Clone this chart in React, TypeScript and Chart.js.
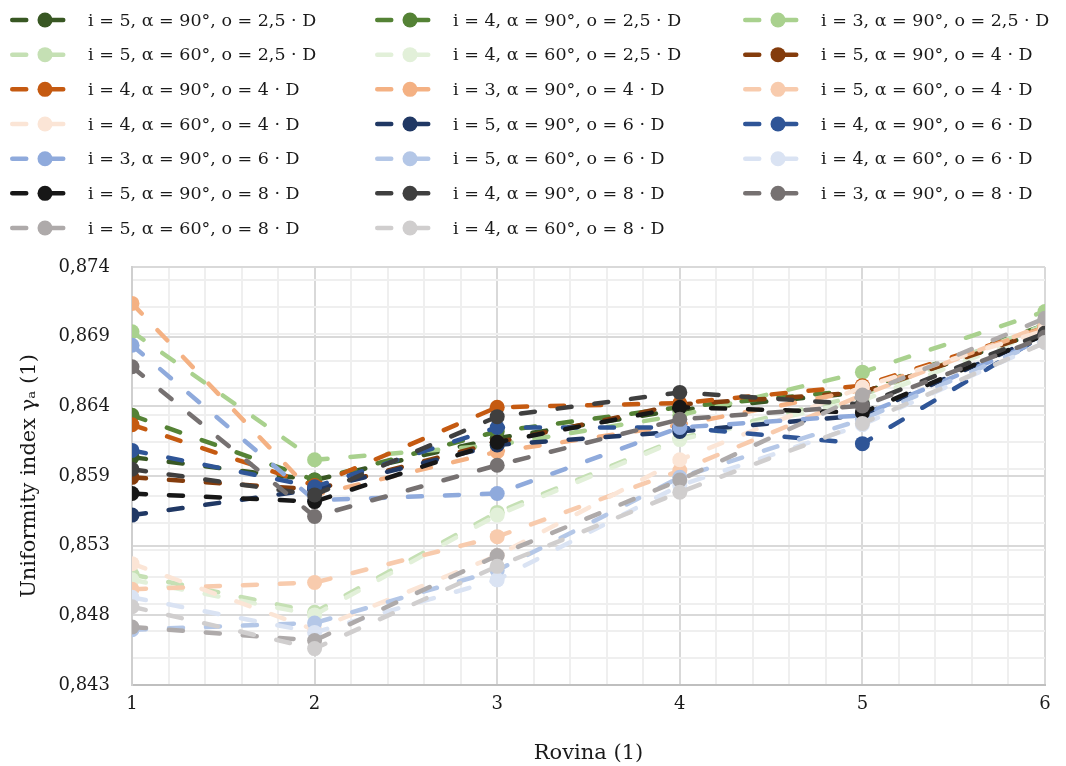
import React, { useEffect, useRef } from 'react';
import { Chart, registerables } from 'chart.js';

Chart.register(...registerables);

// ---- data ----
const xValues = [1, 2, 3, 4, 5, 6];

const seriesLabels = [
  'i = 5, α = 90°, o = 2,5 · D',
  'i = 4, α = 90°, o = 2,5 · D',
  'i = 3, α = 90°, o = 2,5 · D',
  'i = 5, α = 60°, o = 2,5 · D',
  'i = 4, α = 60°, o = 2,5 · D',
  'i = 5, α = 90°, o = 4 · D',
  'i = 4, α = 90°, o = 4 · D',
  'i = 3, α = 90°, o = 4 · D',
  'i = 5, α = 60°, o = 4 · D',
  'i = 4, α = 60°, o = 4 · D',
  'i = 5, α = 90°, o = 6 · D',
  'i = 4, α = 90°, o = 6 · D',
  'i = 3, α = 90°, o = 6 · D',
  'i = 5, α = 60°, o = 6 · D',
  'i = 4, α = 60°, o = 6 · D',
  'i = 5, α = 90°, o = 8 · D',
  'i = 4, α = 90°, o = 8 · D',
  'i = 3, α = 90°, o = 8 · D',
  'i = 5, α = 60°, o = 8 · D',
  'i = 4, α = 60°, o = 8 · D',
];

const seriesColors = [
  '#385723', '#548235', '#a9d18e', '#c5e0b4', '#e2f0d9',
  '#843c0c', '#c55a11', '#f4b183', '#f8cbad', '#fbe5d6',
  '#203864', '#2f5597', '#8faadc', '#b4c7e7', '#dae3f3',
  '#171717', '#3f3f3f', '#767171', '#aeaaaa', '#d0cece',
];

const i5_a90_o2_5 = [0.8599, 0.8582, 0.8613, 0.8634, 0.8647, 0.8693];
const i4_a90_o2_5 = [0.8630, 0.8582, 0.8618, 0.8636, 0.8649, 0.8697];
const i3_a90_o2_5 = [0.8692, 0.8597, 0.8608, 0.8630, 0.8662, 0.8707];
const i5_a60_o2_5 = [0.8512, 0.8484, 0.8558, 0.8613, 0.8645, 0.8697];
const i4_a60_o2_5 = [0.8508, 0.8482, 0.8556, 0.8612, 0.8641, 0.8693];
const i5_a90_o4 = [0.8584, 0.8575, 0.8610, 0.8638, 0.8647, 0.8693];
const i4_a90_o4 = [0.8623, 0.8578, 0.8636, 0.8639, 0.8652, 0.8695];
const i3_a90_o4 = [0.8713, 0.8571, 0.8603, 0.8623, 0.8649, 0.8695];
const i5_a60_o4 = [0.8501, 0.8506, 0.8540, 0.8589, 0.8645, 0.8697];
const i4_a60_o4 = [0.8520, 0.8471, 0.8526, 0.8597, 0.8651, 0.8693];
const i5_a90_o6 = [0.8556, 0.8575, 0.8608, 0.8618, 0.8630, 0.8690];
const i4_a90_o6 = [0.8604, 0.8577, 0.8621, 0.8621, 0.8609, 0.8690];
const i3_a90_o6 = [0.8682, 0.8567, 0.8572, 0.8621, 0.8630, 0.8687];
const i5_a60_o6 = [0.8471, 0.8476, 0.8515, 0.8584, 0.8627, 0.8686];
const i4_a60_o6 = [0.8495, 0.8469, 0.8508, 0.8578, 0.8623, 0.8684];
const i5_a90_o8 = [0.8572, 0.8566, 0.8610, 0.8636, 0.8632, 0.8690];
const i4_a90_o8 = [0.8590, 0.8571, 0.8629, 0.8647, 0.8638, 0.8691];
const i3_a90_o8 = [0.8666, 0.8555, 0.8593, 0.8627, 0.8637, 0.8688];
const i5_a60_o8 = [0.8473, 0.8463, 0.8526, 0.8582, 0.8645, 0.8702];
const i4_a60_o8 = [0.8488, 0.8457, 0.8518, 0.8573, 0.8624, 0.8684];

const seriesValues = [
  i5_a90_o2_5, i4_a90_o2_5, i3_a90_o2_5, i5_a60_o2_5, i4_a60_o2_5,
  i5_a90_o4, i4_a90_o4, i3_a90_o4, i5_a60_o4, i4_a60_o4,
  i5_a90_o6, i4_a90_o6, i3_a90_o6, i5_a60_o6, i4_a60_o6,
  i5_a90_o8, i4_a90_o8, i3_a90_o8, i5_a60_o8, i4_a60_o8,
];

// axis settings
const yMin = 0.843;
const yMax = 0.874;
const yMajorIntervals = 6;
const yMinorStep = 0.002;
const xMin = 1;
const xMax = 6;
const xMinorStep = 0.2;

const xTitle = 'Rovina (1)';
const yTitle = 'Uniformity index γₐ (1)';

const FONT = "'DejaVu Serif', serif";
const TEXT = '#1a1a1a';

const yMajors: number[] = [];
for (let k = 0; k <= yMajorIntervals; k++) yMajors.push(yMin + (k * (yMax - yMin)) / yMajorIntervals);
const isYMajor = (v: number) => yMajors.some((m) => Math.abs(m - v) < 1e-7);
const isXMajor = (v: number) => Math.abs(v - Math.round(v)) < 1e-7;

const legendPlugin = {
  id: 'gridLegend',
  afterDraw(chart: any) {
    const ctx = chart.ctx;
    const colStarts = [10, 375, 743];
    const rowTop = 20;
    const rowStep = 34.67;
    ctx.save();
    seriesLabels.forEach((label, i) => {
      const col = i % 3;
      const row = Math.floor(i / 3);
      const x0 = colStarts[col];
      const y = rowTop + row * rowStep;
      const color = seriesColors[i];
      ctx.strokeStyle = color;
      ctx.lineWidth = 4.5;
      ctx.lineCap = 'round';
      ctx.setLineDash([14, 23]);
      ctx.beginPath();
      ctx.moveTo(x0 + 2.25, y);
      ctx.lineTo(x0 + 55, y);
      ctx.stroke();
      ctx.setLineDash([]);
      ctx.fillStyle = color;
      ctx.beginPath();
      ctx.arc(x0 + 35, y, 7.5, 0, Math.PI * 2);
      ctx.fill();
      ctx.fillStyle = TEXT;
      ctx.font = `17.5px ${FONT}`;
      ctx.textBaseline = 'middle';
      ctx.textAlign = 'left';
      ctx.fillText(label, x0 + 78, y + 1);
    });
    ctx.restore();
  },
};

export default function App() {
  const canvasRef = useRef<HTMLCanvasElement | null>(null);

  useEffect(() => {
    document.body.style.margin = '0';
    const canvas = canvasRef.current;
    if (!canvas) return;

    const datasets = seriesValues.map((vals, i) => ({
      label: seriesLabels[i],
      data: vals.map((v, j) => ({ x: xValues[j], y: v })),
      borderColor: seriesColors[i],
      backgroundColor: seriesColors[i],
      pointBackgroundColor: seriesColors[i],
      pointBorderWidth: 0,
      pointRadius: 7.5,
      borderWidth: 4.5,
      borderDash: [14, 23],
      borderCapStyle: 'round' as const,
      tension: 0,
      order: seriesValues.length - i,
    }));

    const chart = new Chart(canvas, {
      type: 'line',
      data: { datasets },
      plugins: [legendPlugin],
      options: {
        responsive: false,
        animation: false,
        events: [],
        layout: { padding: { top: 267, right: 21, left: 0, bottom: 0 } },
        plugins: {
          legend: { display: false },
          tooltip: { enabled: false },
        },
        scales: {
          x: {
            type: 'linear',
            min: xMin,
            max: xMax,
            afterFit: (scale: any) => {
              scale.height = 81;
            },
            afterBuildTicks: (scale: any) => {
              const t: { value: number }[] = [];
              const n = Math.round((xMax - xMin) / xMinorStep);
              for (let k = 0; k <= n; k++) t.push({ value: +(xMin + k * xMinorStep).toFixed(6) });
              scale.ticks = t;
            },
            ticks: {
              autoSkip: false,
              maxRotation: 0,
              padding: 9,
              color: TEXT,
              font: { family: FONT, size: 18 },
              callback: (v: any) => (isXMajor(Number(v)) ? String(Math.round(Number(v))) : ''),
            },
            grid: {
              drawTicks: false,
              lineWidth: 2,
              color: (ctx: any) => (ctx.tick && isXMajor(ctx.tick.value) ? '#d9d9d9' : '#efefef'),
            },
            border: { display: true, color: '#bfbfbf', width: 2 },
            title: {
              display: true,
              text: xTitle,
              color: TEXT,
              font: { family: FONT, size: 21 },
              padding: { top: 9, bottom: 0 },
            },
          },
          y: {
            type: 'linear',
            min: yMin,
            max: yMax,
            afterFit: (scale: any) => {
              scale.width = 132;
            },
            afterBuildTicks: (scale: any) => {
              const vals = [...yMajors];
              const n = Math.round((yMax - yMin) / yMinorStep);
              for (let k = 1; k <= n; k++) {
                const v = yMin + k * yMinorStep;
                if (v < yMax - 1e-9 && !isYMajor(v)) vals.push(v);
              }
              vals.sort((a, b) => a - b);
              scale.ticks = vals.map((v) => ({ value: v }));
            },
            ticks: {
              autoSkip: false,
              padding: 22,
              color: TEXT,
              font: { family: FONT, size: 18 },
              callback: (v: any) => (isYMajor(Number(v)) ? Number(v).toFixed(3).replace('.', ',') : ''),
            },
            grid: {
              drawTicks: false,
              lineWidth: 2,
              color: (ctx: any) => (ctx.tick && isYMajor(ctx.tick.value) ? '#d9d9d9' : '#efefef'),
            },
            border: { display: true, color: '#cfcfcf', width: 2 },
            title: {
              display: true,
              text: yTitle,
              color: TEXT,
              font: { family: FONT, size: 21 },
              padding: { top: 17, bottom: 0 },
            },
          },
        },
      },
    });

    return () => {
      chart.destroy();
    };
  }, []);

  return (
    <div style={{ width: 1066, height: 766 }}>
      <canvas ref={canvasRef} width={1066} height={766} style={{ display: 'block' }} />
    </div>
  );
}
